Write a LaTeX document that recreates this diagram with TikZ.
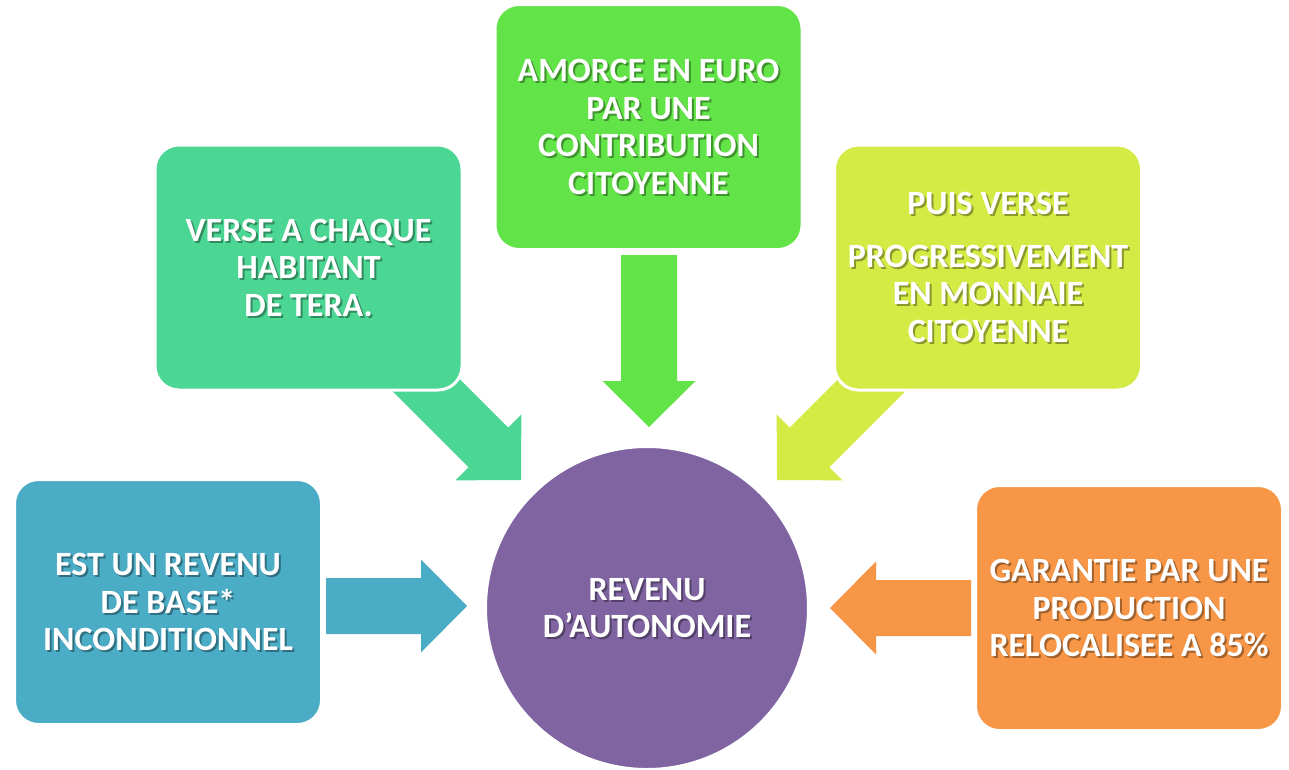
\documentclass[tikz,border=0pt]{standalone}
\usepackage{fontspec}
\setmainfont{Carlito}
\usetikzlibrary{calc}
\definecolor{cblue}{HTML}{4BACC6}
\definecolor{cteal}{HTML}{4BD693}
\definecolor{cgreen}{HTML}{62E347}
\definecolor{cyell}{HTML}{D4EB45}
\definecolor{corange}{HTML}{F79646}
\definecolor{cpurple}{HTML}{8064A2}
\newcommand\blockarr[4]{% tip, angle, length, colour
  \begin{scope}[shift={(#1)},rotate=#2]
    \fill[#4] (-#3,-28) -- (-46,-28) -- (-46,-46.5) -- (0,0) -- (-46,46.5) -- (-46,28) -- (-#3,28) -- cycle;
  \end{scope}}
\begin{document}
\begin{tikzpicture}[x=1pt,y=-1pt,
  box/.style={rectangle,rounded corners=24pt,draw=white,line width=3pt,inner sep=0pt,
              minimum width=307pt,minimum height=245pt},
  txt/.style={text=white,font=\bfseries\fontsize{34}{37.5}\selectfont,align=center,inner sep=0pt},
  shd/.style={txt,text=black,text opacity=0.35}]
\useasboundingbox (0,0) rectangle (1289,769);
\fill[white] (0,0) rectangle (1289,769);
% arrow tips
\coordinate (tg) at (649,427);
\coordinate (tb) at (467,606);
\coordinate (to) at (830,608);
\coordinate (tt) at (521,480);
\coordinate (ty) at (777,480);
\blockarr{tg}{-90}{172}{cgreen}
\blockarr{tb}{0}{141}{cblue}
\blockarr{to}{180}{141}{corange}
\blockarr{tt}{-45}{200}{cteal}
\blockarr{ty}{-135}{200}{cyell}
% boxes
\node[box,fill=cblue] (b1) at (168,602) {};
\node[box,fill=cteal] (b2) at (308.5,267.5) {};
\node[box,fill=cgreen] (b3) at (648.5,127) {};
\node[box,fill=cyell] (b4) at (988,267.5) {};
\node[box,fill=corange] (b5) at (1129,608) {};
\node[circle,fill=cpurple,draw=white,line width=3pt,minimum size=323pt,inner sep=0pt] (c) at (647,608) {};
% texts
\newcommand\tA{EST UN REVENU\\DE BASE*\\INCONDITIONNEL}
\newcommand\tB{VERSE A CHAQUE\\HABITANT\\DE TERA.}
\newcommand\tC{AMORCE EN EURO\\PAR UNE\\CONTRIBUTION\\CITOYENNE}
\newcommand\tD{PUIS VERSE\\[15pt]PROGRESSIVEMENT\\EN MONNAIE\\CITOYENNE}
\newcommand\tE{GARANTIE PAR UNE\\PRODUCTION\\RELOCALISEE A 85\%}
\newcommand\tF{REVENU\\D’AUTONOMIE}
\node[shd] at ($(b1)+(2,2)$) {\tA};
\node[txt] (l1) at (b1) {\tA};
\node[shd] at ($(b2)+(2,2)$) {\tB};
\node[txt] (l2) at (b2) {\tB};
\node[shd] at ($(b3)+(2,2)$) {\tC};
\node[txt] (l3) at (b3) {\tC};
\node[shd] at ($(b4)+(2,2)$) {\tD};
\node[txt] (l4) at (b4) {\tD};
\node[shd] at ($(b5)+(2,2)$) {\tE};
\node[txt] (l5) at (b5) {\tE};
\node[shd] at ($(c)+(2,2)$) {\tF};
\node[txt] (l6) at (c) {\tF};
\end{tikzpicture}
\end{document}
